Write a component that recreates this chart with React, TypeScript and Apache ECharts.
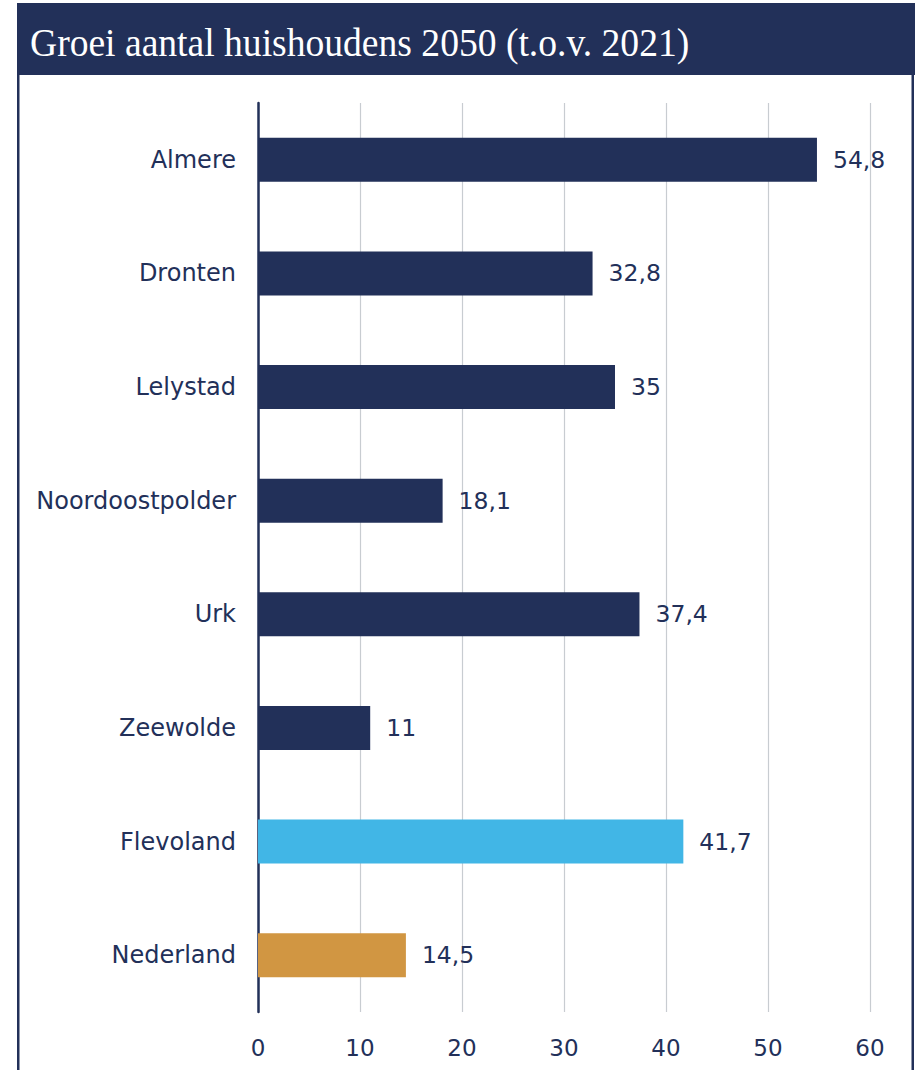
import React, { useEffect, useRef } from "react";
import * as echarts from "echarts";

const categories = ["Almere", "Dronten", "Lelystad", "Noordoostpolder", "Urk", "Zeewolde", "Flevoland", "Nederland"];
const values = [54.8, 32.8, 35, 18.1, 37.4, 11, 41.7, 14.5];
const barColors = ["#223059", "#223059", "#223059", "#223059", "#223059", "#223059", "#41b6e6", "#d19642"];
const xTicks = { min: 0, max: 60, interval: 10 };
const titleText = "Groei aantal huishoudens 2050 (t.o.v. 2021)";

const NAVY = "#223059";
const FONT = "'DejaVu Sans', Verdana, sans-serif";

export default function App() {
  const ref = useRef<HTMLDivElement>(null);
  useEffect(() => {
    document.body.style.margin = "0";
    const chart = echarts.init(ref.current!, null, { renderer: "svg" });
    chart.setOption({
      animation: false,
      backgroundColor: "#ffffff",
      graphic: [
        { type: "rect", shape: { x: 17, y: 3, width: 898, height: 72 }, style: { fill: NAVY }, z: 10 },
        { type: "rect", shape: { x: 17, y: 75, width: 2.5, height: 1000 }, style: { fill: NAVY }, z: 10 },
        { type: "rect", shape: { x: 911.5, y: 75, width: 2.5, height: 1000 }, style: { fill: NAVY }, z: 10 },
        {
          type: "text",
          x: 30,
          y: 42,
          scaleX: 0.94,
          z: 11,
          style: {
            text: titleText,
            fill: "#ffffff",
            font: "40px 'Liberation Serif', serif",
            verticalAlign: "middle",
            align: "left",
          },
        },
      ],
      grid: { left: 258, right: 45, top: 103, bottom: 58, containLabel: false },
      xAxis: {
        type: "value",
        min: xTicks.min,
        max: xTicks.max,
        interval: xTicks.interval,
        axisLine: { show: false },
        axisTick: { show: false },
        splitLine: { show: true, lineStyle: { color: "#c8ccd1", width: 1.2 } },
        axisLabel: { color: NAVY, fontFamily: FONT, fontSize: 23, margin: 24 },
      },
      yAxis: {
        type: "category",
        data: categories,
        inverse: true,
        axisLine: { show: true, lineStyle: { color: NAVY, width: 2.5 } },
        axisTick: { show: false },
        axisLabel: { color: NAVY, fontFamily: FONT, fontSize: 24, margin: 22 },
      },
      series: [
        {
          type: "bar",
          barWidth: 44,
          data: values.map((v, i) => ({ value: v, itemStyle: { color: barColors[i] } })),
          label: {
            show: true,
            position: "right",
            distance: 16,
            color: NAVY,
            fontFamily: FONT,
            fontSize: 23.5,
            formatter: (p: any) => String(p.value).replace(".", ","),
          },
        },
      ],
    });
    return () => chart.dispose();
  }, []);
  return <div ref={ref} style={{ width: 915, height: 1070 }} />;
}
